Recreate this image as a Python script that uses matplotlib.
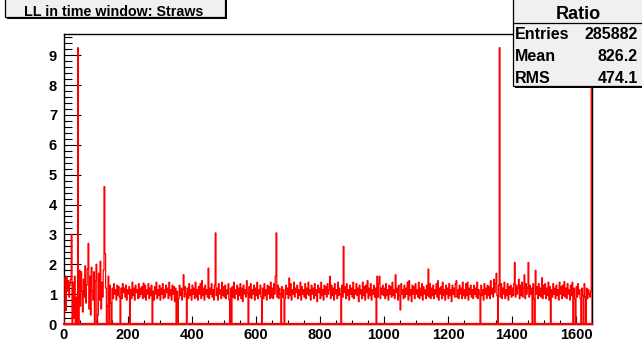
import matplotlib
matplotlib.use("Agg")
import matplotlib.pyplot as plt
import numpy as np
from matplotlib.patches import Rectangle
from matplotlib.lines import Line2D
from matplotlib.ticker import MultipleLocator

plt.rcParams["font.family"] = ["Liberation Sans", "DejaVu Sans"]
plt.rcParams["font.weight"] = "bold"

# ---- histogram contents (bin width 2.5, range 0..1650) ----
bin_width = 2.5
seg_0_250 = [
    1.30, 1.55, 0.45, 1.60, 1.10, 1.45, 0.90, 1.30, 1.50, 3.00,
    0.00, 1.40, 0.20, 1.60, 0.00, 0.90, 0.00, 9.25, 0.00, 1.80,
    0.60, 1.75, 1.10, 0.40, 1.50, 0.90, 1.95, 0.70, 1.30, 1.85,
    2.70, 0.50, 1.60, 0.30, 1.90, 1.10, 0.80, 1.75, 0.00, 1.45,
    2.00, 0.00, 0.30, 1.70, 0.80, 2.10, 0.50, 1.40, 0.90, 1.80,
    4.60, 2.35, 1.20, 0.00, 0.60, 1.60, 0.00, 1.30, 0.70, 0.00,
    1.20, 0.85, 1.35, 1.00, 1.15, 0.80, 1.30, 0.95, 1.25, 0.90,
    0.00, 1.20, 0.85, 1.35, 1.05, 1.20, 0.90, 1.30, 0.80, 1.15,
    1.00, 1.25, 0.00, 1.15, 0.85, 1.40, 0.95, 1.20, 0.80, 1.30,
    1.05, 1.15, 0.85, 1.35, 0.90, 1.20, 1.00, 1.25, 0.85, 1.37]
seg_250_500 = [
    0.90, 1.30, 0.80, 1.15, 1.00, 1.35, 0.85, 1.20, 0.95, 1.30,
    0.00, 1.10, 0.80, 1.25, 1.00, 1.40, 0.85, 1.15, 0.95, 1.30,
    0.80, 1.20, 1.00, 1.35, 0.85, 1.15, 0.90, 1.30, 1.05, 1.20,
    0.85, 1.40, 0.95, 1.15, 0.80, 1.30, 1.00, 1.25, 0.75, 1.20,
    0.00, 1.10, 0.00, 0.85, 1.30, 0.95, 1.20, 0.80, 1.15, 1.65,
    0.90, 1.25, 1.00, 0.00, 1.20, 0.85, 1.35, 0.95, 1.15, 0.80,
    1.30, 1.00, 1.20, 0.85, 1.40, 0.90, 1.15, 0.80, 1.25, 1.00,
    1.35, 0.85, 1.45, 0.95, 1.20, 0.80, 1.30, 1.00, 1.15, 0.90,
    1.87, 0.85, 1.20, 1.00, 1.35, 0.90, 1.15, 0.80, 1.30, 3.05,
    0.95, 1.20, 0.80, 1.35, 1.00, 1.15, 0.85, 1.40, 0.95, 1.25]
seg_500_750 = [
    0.90, 1.30, 0.85, 1.15, 1.00, 1.35, 0.80, 0.00, 1.20, 0.00,
    1.25, 0.90, 1.40, 0.85, 1.15, 1.00, 1.30, 0.80, 1.20, 0.95,
    1.35, 0.85, 1.20, 0.75, 1.30, 1.00, 1.15, 0.90, 1.45, 1.05,
    0.00, 1.25, 0.90, 1.35, 0.85, 1.15, 1.00, 1.30, 0.80, 1.20,
    0.95, 1.40, 0.85, 1.15, 1.00, 1.30, 0.90, 0.00, 1.20, 0.85,
    1.35, 0.95, 1.15, 0.80, 1.30, 1.00, 1.25, 0.85, 1.40, 0.90,
    1.20, 0.85, 1.35, 1.00, 1.60, 3.05, 0.90, 1.30, 0.85, 1.20,
    1.00, 0.00, 1.25, 0.90, 1.15, 0.00, 0.85, 1.30, 1.00, 1.20,
    0.85, 1.54, 0.95, 1.35, 0.80, 1.15, 1.00, 1.40, 0.90, 1.20,
    1.05, 1.30, 0.85, 1.15, 0.95, 1.40, 0.80, 1.25, 1.00, 1.15]
seg_750_1000 = [
    0.90, 1.35, 0.85, 1.20, 1.00, 1.40, 0.95, 1.15, 0.80, 1.30,
    1.00, 1.20, 0.85, 1.35, 0.95, 1.15, 0.75, 1.30, 1.05, 1.20,
    0.85, 1.40, 0.95, 1.15, 0.80, 1.30, 1.00, 1.25, 0.90, 1.35,
    1.00, 1.15, 1.60, 0.85, 1.30, 0.95, 1.20, 0.80, 1.35, 1.00,
    1.15, 0.85, 1.40, 0.95, 1.20, 1.00, 0.00, 1.30, 0.90, 2.60,
    1.05, 1.25, 0.85, 1.35, 0.95, 1.15, 0.80, 1.30, 1.00, 1.20,
    0.90, 1.40, 0.85, 1.15, 1.00, 1.35, 0.95, 1.20, 0.75, 1.30,
    1.00, 1.15, 0.85, 1.40, 0.95, 1.25, 0.80, 1.30, 1.05, 1.45,
    0.85, 1.20, 0.95, 1.35, 0.80, 1.15, 1.00, 1.30, 0.90, 1.20,
    0.00, 1.60, 0.90, 1.35, 1.60, 0.85, 1.20, 1.00, 1.30, 0.95]
seg_1000_1250 = [
    1.20, 0.85, 1.35, 0.95, 1.15, 0.80, 1.30, 1.00, 1.25, 0.90,
    1.40, 0.95, 1.15, 0.85, 1.65, 1.05, 1.20, 0.80, 1.30, 0.95,
    0.47, 1.35, 1.00, 1.15, 0.85, 1.30, 0.90, 1.20, 1.00, 1.40,
    0.80, 1.45, 0.95, 1.15, 0.75, 1.30, 1.00, 1.25, 0.85, 1.35,
    1.00, 1.15, 0.90, 1.40, 0.85, 1.20, 0.95, 1.35, 0.80, 1.25,
    1.00, 1.15, 0.85, 1.30, 0.95, 1.84, 0.90, 1.35, 0.85, 1.20,
    0.95, 1.30, 0.85, 1.15, 1.00, 1.35, 0.90, 1.45, 0.80, 1.20,
    1.00, 1.25, 0.85, 1.40, 0.95, 1.15, 0.80, 1.30, 1.00, 1.20,
    0.85, 1.35, 0.95, 1.15, 0.75, 1.30, 1.00, 1.20, 0.90, 1.35,
    1.45, 0.90, 1.15, 0.85, 1.30, 1.00, 1.20, 0.85, 1.40, 0.95]
seg_1250_1500 = [
    1.15, 0.85, 1.35, 0.95, 1.40, 0.80, 1.20, 1.00, 1.30, 0.90,
    1.15, 0.85, 1.30, 1.00, 1.20, 0.90, 1.40, 0.85, 1.15, 1.00,
    0.00, 1.30, 0.95, 1.15, 0.80, 1.35, 1.00, 1.20, 0.85, 1.30,
    0.95, 1.25, 0.85, 1.45, 1.00, 1.20, 0.90, 1.50, 1.05, 1.35,
    1.70, 0.95, 0.00, 1.30, 9.25, 0.90, 1.35, 0.85, 1.20, 1.00,
    1.40, 0.85, 1.15, 0.95, 1.35, 0.80, 1.25, 1.00, 1.30, 0.90,
    1.20, 0.95, 1.35, 2.06, 0.90, 1.30, 1.00, 1.20, 1.50, 0.85,
    1.30, 0.95, 1.40, 0.90, 1.20, 1.65, 0.85, 1.35, 1.00, 1.20,
    2.06, 0.90, 1.30, 1.00, 1.20, 0.00, 1.35, 0.85, 0.00, 1.80,
    1.00, 1.25, 0.85, 1.35, 0.95, 1.20, 0.90, 1.55, 0.85, 1.30]
seg_1500_1650 = [
    1.00, 1.35, 0.85, 1.20, 0.95, 1.40, 0.80, 1.25, 0.00, 1.15,
    0.90, 1.35, 1.00, 1.20, 0.85, 1.30, 0.95, 1.15, 0.80, 1.40,
    1.00, 1.25, 0.85, 1.30, 0.95, 1.42, 0.90, 1.20, 0.85, 1.35,
    1.00, 1.15, 0.80, 1.30, 0.95, 1.40, 0.00, 1.20, 0.85, 0.00,
    1.25, 0.90, 1.35, 1.00, 1.15, 0.85, 0.00, 1.20, 0.95, 0.00,
    1.35, 0.90, 0.00, 1.20, 0.85, 1.15, 1.00, 0.90, 1.10, 15.0]

title_text = "LL in time window: Straws"
stats_title = "Ratio"
stats_labels = ["Entries", "Mean", "RMS"]
stats_values = ["285882", "826.2", "474.1"]

x_max = 1650
y_max = 9.71

values = np.array(seg_0_250 + seg_250_500 + seg_500_750 + seg_750_1000
                  + seg_1000_1250 + seg_1250_1500 + seg_1500_1650)
edges = np.arange(len(values) + 1) * bin_width

W, H = 642, 345
fig = plt.figure(figsize=(W / 100, H / 100), dpi=100)
fig.patch.set_facecolor("white")


def fx(x):
    return x / W


def fy(y):
    return 1 - y / H


ax = fig.add_axes([fx(64), fy(324), (592 - 64) / W, (324 - 34) / H])
ax.stairs(values, edges, color="#ff0000", lw=0.9, zorder=3)
ax.axhline(0, color="#ff0000", lw=1.6, clip_on=False, zorder=4)
ax.set_xlim(0, x_max)
ax.set_ylim(0, y_max)

ax.xaxis.set_major_locator(MultipleLocator(200))
ax.xaxis.set_minor_locator(MultipleLocator(50))
ax.yaxis.set_major_locator(MultipleLocator(1))
ax.yaxis.set_minor_locator(MultipleLocator(0.2))
ax.tick_params(axis="y", which="major", direction="in", length=12.2, width=0.8,
               pad=5, labelsize=10.5)
ax.tick_params(axis="y", which="minor", direction="in", length=5.8, width=0.8)
ax.tick_params(axis="x", which="major", direction="in", length=5.8, width=0.8,
               pad=3, labelsize=10.5)
ax.tick_params(axis="x", which="minor", direction="in", length=2.9, width=0.8)
for lab in ax.get_xticklabels() + ax.get_yticklabels():
    lab.set_fontweight("bold")
for sp in ax.spines.values():
    sp.set_linewidth(1.0)
    sp.set_color("black")


def boxed(x0, y0, x1, y1, shadow=2):
    # drop shadow below/right, then the light grey panel with a black border
    fig.add_artist(Rectangle((fx(x0 + shadow), fy(y1 + shadow)),
                             (x1 - x0) / W, (y1 - y0) / H,
                             transform=fig.transFigure, facecolor="black",
                             edgecolor="none", zorder=10))
    fig.add_artist(Rectangle((fx(x0), fy(y1)), (x1 - x0) / W, (y1 - y0) / H,
                             transform=fig.transFigure, facecolor="#f0f0f0",
                             edgecolor="black", lw=0.9, zorder=11))


# title panel
boxed(5, -5, 225, 17)
fig.text(fx(114), fy(15.7), title_text, ha="center", va="baseline",
         fontsize=10.3, fontweight="bold", zorder=12)

# statistics panel
boxed(513, -5, 650, 86)
fig.add_artist(Line2D([fx(513), fx(642)], [fy(22.7), fy(22.7)],
                      transform=fig.transFigure, color="black", lw=0.9,
                      zorder=12))
fig.text(fx(578), fy(19), stats_title, ha="center", va="baseline",
         fontsize=13, fontweight="bold", zorder=12)
row_base = [39.3, 61, 83]
for lab, val, yb in zip(stats_labels, stats_values, row_base):
    fig.text(fx(515), fy(yb), lab, ha="left", va="baseline", fontsize=11.5,
             fontweight="bold", zorder=12)
    fig.text(fx(638), fy(yb), val, ha="right", va="baseline", fontsize=11.5,
             fontweight="bold", zorder=12)

fig.savefig("out.png", dpi=100)
